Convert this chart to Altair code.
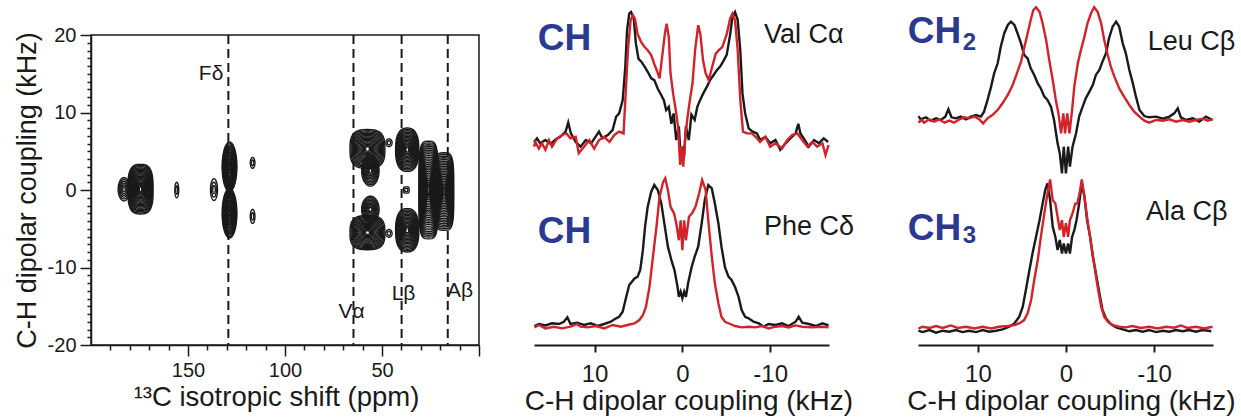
import altair as alt
import pandas as pd
import numpy as np

FONT = "Liberation Sans"
BLACK = "#1a1a1a"
RED = "#d2232a"
NAVY = "#2b3990"

# ---------------- left panel: 2D contour spectrum ----------------
# contour islands: centre (ppm, kHz), half-width (ppm), half-height (kHz), number of contour levels, squareness
blob_ppm = [174.5, 183.0, 155.8, 136.6, 128.6, 128.6, 128.6, 116.7, 116.7, 57.5, 56.0, 57.5, 56.0, 46.4, 46.4, 37.0, 37.0, 37.5, 26.0, 18.0]
blob_khz = [0.1, 0.1, 0.0, 0.05, 3.0, -3.0, 0.0, 3.5, -3.4, 5.3, 2.5, -5.5, -2.5, 6.1, -5.6, 5.2, -5.2, 0.0, 0.0, -0.2]
blob_wppm = [6.5, 3.0, 1.0, 1.8, 3.8, 3.8, 1.5, 1.2, 1.2, 9.0, 4.5, 9.0, 4.5, 1.6, 1.6, 6.0, 6.0, 1.5, 5.0, 5.0]
blob_hkhz = [3.2, 1.5, 1.0, 1.4, 3.2, 3.2, 1.5, 0.7, 0.9, 2.5, 2.0, 2.2, 1.7, 0.5, 0.5, 2.8, 2.8, 0.4, 6.3, 5.0]
blob_levels = [20, 6, 2, 3, 16, 16, 4, 2, 2, 15, 10, 15, 9, 2, 2, 15, 15, 2, 26, 22]
blob_power = [3, 2, 2, 2, 2, 2, 2, 2, 2, 3, 2, 3, 2, 2, 2, 2.5, 2.5, 4, 4, 4]

ref_ppm = [129.2, 64.7, 39.9, 16.1]
ref_label = ["Fδ", "Vα", "Lβ", "Aβ"]
ref_label_ppm = [138.1, 65.7, 38.9, 9.8]
ref_label_khz = [14.2, -16.5, -14.2, -13.8]

# ---------------- 1D slices (kHz, intensity in % of panel maximum) ----------------
val_black = [(16.9,0),(16.55,2.8),(16.2,-1),(15.6,1.5),(15.0,-1.5),(14.45,2),(13.9,4),(13.3,8),(13.0,15),(12.7,6.6),(12.15,0),(11.6,-3.6),(11.0,1.5),(10.4,-1),(9.9,4),(9.5,8),(9.1,2.8),(8.5,5.4),(7.95,9.2),(7.55,19.4),(7.2,22),(6.8,32),(6.5,58),(6.3,86),(6.05,98.7),(5.85,100),(5.55,96),(5.3,76),(5.0,64),(4.7,62),(4.3,58),(3.95,54),(3.55,49),(3.2,47.6),(2.8,41),(2.4,36),(2.1,32),(1.85,24.5),(1.55,27),(1.25,14),(1.0,22),(0.7,1.5),(0.4,12),(0.2,-11),(0,-3.6),(-0.2,-11),(-0.4,12),(-0.73,1.5),(-1.03,21),(-1.4,17),(-1.7,27),(-2.0,32),(-2.35,37),(-2.75,42),(-3.15,47.6),(-3.5,51),(-3.9,55),(-4.3,58),(-4.65,62),(-5.05,67),(-5.45,83),(-5.7,96),(-6.0,100),(-6.3,94),(-6.6,70),(-6.85,37),(-7.15,22),(-7.55,10.5),(-8.0,8),(-8.5,6.6),(-8.85,1.5),(-9.45,4),(-10.0,-1),(-10.6,1.5),(-11.15,-6),(-11.75,-1),(-12.3,2.8),(-12.9,6.6),(-13.2,14),(-13.45,6.6),(-13.95,1.5),(-14.4,-3.6),(-15.0,1.5),(-15.55,-1),(-16.1,2.8),(-16.6,0)]
val_red = [(16.9,-3.6),(16.75,0),(16.35,-5),(16.0,-1),(15.6,-6),(15.2,1.5),(14.85,-3.6),(14.25,2.8),(13.7,5.4),(13.2,6.6),(12.75,2.8),(12.15,4),(11.8,-8.7),(11.2,-3.6),(10.6,1.5),(10.05,-5),(9.5,1.5),(8.9,4),(8.3,0),(7.75,5.4),(7.2,8),(6.7,6.6),(6.5,32),(6.2,70.6),(5.9,93.6),(5.65,97.4),(5.4,94.9),(5.1,83),(4.7,77),(4.3,73),(3.95,70.6),(3.55,66.8),(3.2,60),(2.85,54),(2.6,49),(2.35,63),(2.0,83),(1.8,91),(1.55,81),(1.35,52.7),(1.05,37),(0.75,24.5),(0.5,12),(0.25,-17.6),(0.1,-3.6),(-0.1,-19),(-0.3,1.5),(-0.55,17),(-0.85,32),(-1.15,45),(-1.45,70.6),(-1.8,89.8),(-2.05,83),(-2.35,63),(-2.65,52.7),(-3.0,47.6),(-3.4,58),(-3.8,68),(-4.15,70.6),(-4.55,73),(-5.05,83),(-5.45,95),(-5.7,98.7),(-6.0,93.6),(-6.3,70.6),(-6.6,32),(-6.9,8),(-7.35,6.6),(-7.9,6.6),(-8.35,4),(-8.85,0),(-9.45,4),(-10.0,-3.6),(-10.6,-1),(-11.35,-5),(-11.95,1.5),(-12.5,5.4),(-13.1,6.6),(-13.65,1.5),(-14.25,-3.6),(-14.8,0),(-15.35,-3.6),(-15.95,-1),(-16.3,-10),(-16.65,-2.3)]

phe_black = [(16.85,0.5),(16.35,1.9),(15.6,0.9),(14.85,2.4),(14.05,1.9),(13.5,3.5),(13.1,6.6),(12.75,1.9),(12.0,2.8),(11.2,1.2),(10.45,2.4),(9.65,0.5),(8.9,1.9),(8.15,3.5),(7.55,5.9),(7.2,7),(6.8,10.6),(6.4,21),(6.05,29.4),(5.45,34),(5.1,35.3),(4.8,40),(4.5,54),(4.25,70.6),(3.95,84.7),(3.55,95.3),(3.2,100),(2.8,96.5),(2.4,87),(2.0,70.6),(1.65,56.5),(1.25,47),(0.9,40),(0.55,28),(0.4,21),(0.2,24.7),(0,20),(-0.2,24.7),(-0.4,21),(-0.65,30.6),(-1.05,42),(-1.4,49.4),(-1.8,56.5),(-2.2,73),(-2.55,89.4),(-2.95,100),(-3.35,97.6),(-3.7,87),(-4.1,73),(-4.45,56.5),(-4.85,42),(-5.25,35.3),(-5.6,33),(-6.0,28),(-6.4,21),(-6.75,11.8),(-7.15,7),(-7.55,5.9),(-8.1,3.5),(-8.7,2.4),(-9.25,0),(-9.8,1.9),(-10.6,1.2),(-11.35,2.4),(-12.1,0.5),(-12.9,3.5),(-13.25,7),(-13.65,2.8),(-14.4,1.9),(-15.2,0.5),(-15.95,2.4),(-16.65,0.9)]
phe_red = [(16.85,-0.5),(16.35,1.2),(15.6,-1.2),(14.65,0),(13.7,-1.2),(12.75,0),(12.0,1.9),(11.6,0),(10.8,-0.5),(9.85,0.5),(8.9,-1.2),(7.95,1.2),(7.0,0),(6.25,1.2),(5.45,2.4),(4.9,4.7),(4.5,8.2),(4.15,14),(3.75,28),(3.35,49.4),(2.95,70.6),(2.6,91.8),(2.2,102),(1.95,104.7),(1.65,96.5),(1.35,84.7),(0.95,80),(0.7,73),(0.4,61),(0.2,75),(0,54),(-0.2,75),(-0.4,61),(-0.75,77.6),(-1.1,80),(-1.5,84.7),(-1.9,94),(-2.25,103.5),(-2.65,96.5),(-2.95,75),(-3.35,49.4),(-3.7,30.6),(-4.1,16.5),(-4.45,7),(-4.85,3.5),(-5.45,1.9),(-6.0,0.5),(-6.75,-0.5),(-7.55,0),(-8.3,-0.5),(-9.05,0.5),(-9.8,-1.2),(-10.6,0),(-11.35,0.5),(-12.1,-0.5),(-12.9,0.9),(-13.65,0),(-14.8,-0.5),(-15.95,0),(-16.65,-0.5)]

leu_black = [(16.75,3.5),(16.5,0.6),(15.9,2.4),(15.35,-0.6),(14.75,1.5),(14.2,0),(13.7,3),(13.35,9.5),(13.0,2.4),(12.5,1.5),(11.95,3),(11.35,0.6),(10.8,3),(10.2,4.4),(9.65,3),(9.3,7.4),(8.9,17.8),(8.5,29.6),(8.15,41.4),(7.75,50.3),(7.4,65),(7.0,77),(6.6,84.3),(6.25,87.3),(5.85,84.3),(5.5,77),(5.1,68),(4.75,57.7),(4.35,54.7),(4.0,45.9),(3.6,40),(3.2,32.5),(2.85,28),(2.45,20.7),(2.1,17.8),(1.7,11.8),(1.35,0),(0.95,-20.7),(0.7,-29.6),(0.45,-47.3),(0.25,-23.7),(0,-47.3),(-0.25,-23.7),(-0.45,-41.4),(-0.75,-23.7),(-1.15,-11.8),(-1.5,3),(-1.9,11.8),(-2.25,19.2),(-2.65,25),(-3.05,31),(-3.4,40),(-3.8,44.4),(-4.15,51.8),(-4.55,59.2),(-4.9,72.8),(-5.3,82.8),(-5.7,87.3),(-6.05,82.8),(-6.45,68),(-6.8,59.2),(-7.2,44.4),(-7.6,32.5),(-7.95,20.7),(-8.35,8.9),(-8.9,3.5),(-9.45,2.4),(-10.25,3),(-11.0,1.2),(-11.75,3),(-12.3,5.9),(-12.7,10.4),(-13.05,2.4),(-13.65,0),(-14.4,1.5),(-15.15,-1.5),(-15.9,3),(-16.65,0)]
leu_red = [(16.75,-2.4),(16.4,0),(16.1,-2.4),(15.55,0.6),(14.95,-1.5),(14.4,0.6),(13.8,-2.4),(13.25,-0.6),(12.7,-2.4),(12.1,0.6),(11.55,2.4),(11.0,1.5),(10.4,3),(9.85,0.6),(9.4,-3),(8.9,1.5),(8.35,4.4),(7.75,8.9),(7.2,14.8),(6.6,22.2),(6.05,31),(5.5,42.9),(5.1,51.8),(4.75,63.6),(4.35,77),(4.0,88.8),(3.7,97.6),(3.4,100),(3.0,96),(2.65,85.8),(2.25,71),(1.9,53.3),(1.5,35.5),(1.15,17.8),(0.85,5.9),(0.55,-11.8),(0.3,5.9),(0.1,-11.8),(-0.15,5.9),(-0.4,-11.8),(-0.7,8.9),(-0.95,29.6),(-1.35,50.3),(-1.7,62),(-2.1,74),(-2.45,85.8),(-2.85,94.7),(-3.2,100),(-3.6,96),(-4.0,85.8),(-4.35,71),(-4.75,57.7),(-5.1,47.3),(-5.5,38.5),(-6.05,28),(-6.6,20.7),(-7.2,13.3),(-7.75,7.4),(-8.35,3),(-8.9,-0.6),(-9.45,-2.4),(-10.25,0),(-11.0,-0.6),(-11.75,0.6),(-12.5,-1.5),(-13.25,0),(-14.0,-1.5),(-14.75,0),(-15.55,1.2),(-16.1,-0.6),(-16.65,0.6)]

ala_black = [(16.75,0),(16.3,-0.9),(15.5,0.4),(14.75,-1.3),(14.0,0),(13.25,-0.7),(12.5,0.4),(11.75,-0.9),(11.0,0),(10.2,-0.9),(9.45,0.4),(8.7,-0.7),(7.95,0),(7.2,0.9),(6.45,2.6),(5.85,4.8),(5.3,9.3),(4.9,15.9),(4.55,26.9),(4.15,40),(3.8,51),(3.4,62),(3.0,73),(2.65,84),(2.35,93),(2.1,97.4),(1.8,86.3),(1.5,68.7),(1.2,62),(0.95,53.3),(0.7,60),(0.45,51),(0.25,57.7),(0,51),(-0.25,57.7),(-0.45,51),(-0.7,62),(-0.95,66.5),(-1.2,73),(-1.5,84),(-1.8,97.4),(-2.1,88.5),(-2.4,73),(-2.75,62),(-3.05,49),(-3.4,38),(-3.8,24.7),(-4.15,13.7),(-4.55,8.1),(-5.1,4.4),(-5.7,2.2),(-6.45,0.9),(-7.2,-0.4),(-7.95,0.4),(-8.7,-0.7),(-9.45,0.4),(-10.25,-0.9),(-11.0,0),(-11.75,-0.7),(-12.5,0.4),(-13.25,-0.4),(-14.0,0.4),(-14.75,-0.7),(-15.55,0.4),(-16.5,-0.4)]
ala_red = [(16.75,1.3),(16.3,2.6),(15.5,1.8),(14.75,3.1),(14.0,1.8),(13.05,3.5),(12.3,1.8),(11.35,2.6),(10.4,1.5),(9.45,2.6),(8.5,1.5),(7.6,2.6),(6.65,3.1),(5.85,3.7),(5.3,4.8),(4.75,7),(4.35,11.5),(3.95,20.3),(3.6,33.5),(3.2,46.7),(2.85,62),(2.45,77.5),(2.1,90.7),(1.8,100),(1.5,86.3),(1.2,84),(0.95,75.3),(0.7,66.5),(0.45,73),(0.25,62),(0,71),(-0.25,62),(-0.45,73),(-0.75,77.5),(-1.05,84),(-1.3,84),(-1.6,92.5),(-1.8,100),(-2.1,88.5),(-2.45,73),(-2.85,57.7),(-3.2,44.5),(-3.6,29),(-4.0,15.9),(-4.35,9.3),(-4.75,6),(-5.3,3.7),(-6.05,2.6),(-6.8,2.2),(-7.55,3.1),(-8.5,1.8),(-9.45,2.6),(-10.4,1.5),(-11.35,2.6),(-12.3,2),(-13.05,3.5),(-13.8,1.8),(-14.75,2.6),(-15.7,1.5),(-16.65,2.6)]

# ---------------- build left chart ----------------
rows = []
rid = 0
for cx, cy, w, h, n, p in zip(blob_ppm, blob_khz, blob_wppm, blob_hkhz, blob_levels, blob_power):
    for k in range(n):
        s = 1 - k * 0.95 / n
        for j in range(49):
            t = 2 * np.pi * j / 48
            c, sn = np.cos(t), np.sin(t)
            dx = np.sign(c) * abs(c) ** (2 / p)
            dy = np.sign(sn) * abs(sn) ** (2 / p)
            rows.append({"ppm": cx + s * w * dx, "khz": cy + s * h * dy, "ring": rid, "pt": j})
        rid += 1
contour_df = pd.DataFrame(rows)
ref_df = pd.DataFrame({"ppm": ref_ppm})
lab_df = pd.DataFrame({"ppm": ref_label_ppm, "khz": ref_label_khz, "lab": ref_label})

x_left = alt.X("ppm:Q",
    scale=alt.Scale(domain=[0, 200], reverse=True, nice=False, zero=False),
    axis=alt.Axis(values=list(range(0, 200, 10)),
                  labelExpr="datum.value % 50 === 0 && datum.value > 0 ? '' + datum.value : ''",
                  tickSize={"condition": {"test": "datum.value % 50 === 0", "value": 11}, "value": 5},
                  tickWidth=1.5, tickColor=BLACK, domainColor=BLACK, domainWidth=1.5,
                  labelFont=FONT, labelFontSize=20, labelColor=BLACK, labelPadding=4,
                  labelOverlap=False, labelFlush=False, grid=False,
                  title="¹³C isotropic shift (ppm)", titleFont=FONT, titleFontSize=27.5,
                  titleFontWeight="normal", titleColor=BLACK, titleBaseline="alphabetic",
                  titleY=60, titleX=185))
y_left = alt.Y("khz:Q",
    scale=alt.Scale(domain=[-20, 20], nice=False, zero=False),
    axis=alt.Axis(values=list(range(-20, 21)),
                  labelExpr="datum.value % 10 === 0 ? '' + datum.value : ''",
                  tickSize={"condition": {"test": "datum.value % 10 === 0", "value": 11}, "value": 4},
                  tickWidth=1.5, tickColor=BLACK, domainColor=BLACK, domainWidth=1.5,
                  labelFont=FONT, labelFontSize=20, labelColor=BLACK, labelPadding=4,
                  labelOverlap=False, labelFlush=False, grid=False,
                  title="C-H dipolar coupling (kHz)", titleFont=FONT, titleFontSize=27,
                  titleFontWeight="normal", titleColor=BLACK, titleBaseline="alphabetic",
                  titleX=-56))

contours = alt.Chart(contour_df).mark_line(color=BLACK, strokeWidth=1.4).encode(
    x=x_left, y=y_left, detail="ring:N", order="pt:Q")
rules = alt.Chart(ref_df).mark_rule(color=BLACK, strokeWidth=2, strokeDash=[9, 5]).encode(x=x_left)
labels = alt.Chart(lab_df).mark_text(font=FONT, fontSize=21, color=BLACK, align="center",
                                     baseline="alphabetic").encode(x=x_left, y=y_left, text="lab:N")
left = alt.layer(contours, rules, labels).properties(
    width=388, height=310, view=alt.ViewBackground(stroke=BLACK, strokeWidth=1.5))


# ---------------- slice charts ----------------
def text_layer(txt, x, y, size, weight="normal", color=BLACK):
    return alt.Chart(pd.DataFrame({"t": [txt]})).mark_text(
        text=txt, font=FONT, fontSize=size, fontWeight=weight, color=color,
        align="left", baseline="alphabetic").encode(x=alt.value(x), y=alt.value(y))


def slice_chart(panels, domain, title_x, texts):
    recs = []
    for name, base, gain, blk, red in panels:
        for series, arr in (("black", blk), ("red", red)):
            for i, (k, v) in enumerate(arr):
                recs.append({"khz": k, "v": base + gain * v, "s": series, "panel": name, "i": i})
    df = pd.DataFrame(recs)
    x = alt.X("khz:Q",
        scale=alt.Scale(domain=domain, reverse=True, nice=False, zero=False),
        axis=alt.Axis(values=[10, 0, -10], labelExpr="'' + datum.value",
                      tickSize=7, tickWidth=2, tickColor=BLACK, domainColor=BLACK, domainWidth=2,
                      labelFont=FONT, labelFontSize=24, labelColor=BLACK, labelPadding=10,
                      grid=False, title="C-H dipolar coupling (kHz)", titleFont=FONT,
                      titleFontSize=28, titleFontWeight="normal", titleColor=BLACK,
                      titleBaseline="alphabetic", titleY=64, titleX=title_x))
    y = alt.Y("v:Q", scale=alt.Scale(domain=[0, 310], nice=False, zero=False), axis=None)
    layers = []
    for series, col in (("black", BLACK), ("red", RED)):
        layers.append(alt.Chart(df[df.s == series]).mark_line(color=col, strokeWidth=2.4).encode(
            x=x, y=y, detail="panel:N", order="i:Q"))
    for t in texts:
        layers.append(text_layer(*t))
    return alt.layer(*layers).properties(width=295, height=310)


mid = slice_chart(
    [("val", 203, 1.30, val_black, val_red), ("phe", 18.3, 1.417, phe_black, phe_red)],
    [-16.7, 16.9], 154.5,
    [("CH", 3.7, 15, 37, "bold", NAVY), ("Val Cα", 230, 8.3, 27),
     ("CH", 3.7, 208, 37, "bold", NAVY), ("Phe Cδ", 230, 200, 27)])
right = slice_chart(
    [("leu", 225, 1.127, leu_black, leu_red), ("ala", 14.3, 1.513, ala_black, ala_red)],
    [-16.7, 16.8], 153,
    [("CH", -10.3, 8.3, 37, "bold", NAVY), ("2", 44.7, 15, 24, "bold", NAVY), ("Leu Cβ", 229.7, 15, 27),
     ("CH", -10.3, 205, 37, "bold", NAVY), ("3", 44.7, 208.3, 24, "bold", NAVY), ("Ala Cβ", 228, 185, 27)])


def spacer(w):
    return alt.Chart(pd.DataFrame({"a": [0]})).mark_point(opacity=0).encode(
        x=alt.value(0), y=alt.value(0)).properties(width=w, height=310)


chart = alt.hconcat(left, spacer(35), mid, spacer(69), right, spacing=10, bounds="flush").properties(
    padding={"left": 12, "top": 2, "right": 5, "bottom": 5}
).configure_view(strokeWidth=0)

chart.save("out.html", embed_options={"renderer": "svg", "actions": False})
